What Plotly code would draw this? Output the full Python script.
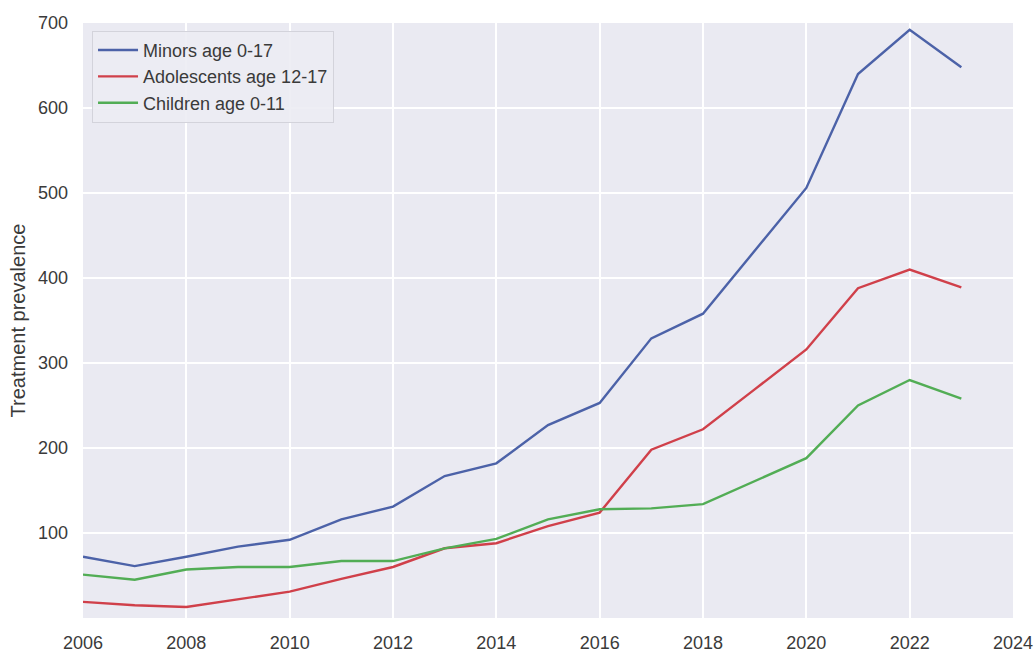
import plotly.graph_objects as go

years = list(range(2006, 2024))
minors = [72, 61, 72, 84, 92, 116, 131, 167, 182, 227, 253, 329, 358, 432, 506, 640, 692, 648]
adolescents = [19, 15, 13, 22, 31, 46, 60, 82, 88, 108, 124, 198, 222, 269, 316, 388, 410, 389]
children = [51, 45, 57, 60, 60, 67, 67, 82, 93, 116, 128, 129, 134, 161, 188, 250, 280, 258]

series_names = ["Minors age 0-17", "Adolescents age 12-17", "Children age 0-11"]
series_colors = ["#4C62A8", "#D0404A", "#52AD55"]
x_ticks = list(range(2006, 2025, 2))
y_ticks = [100, 200, 300, 400, 500, 600, 700]

fig = go.Figure()
for name, vals, col in zip(series_names, [minors, adolescents, children], series_colors):
    fig.add_trace(go.Scatter(x=years, y=vals, mode="lines", name=name,
                             line=dict(color=col, width=2.4)))

font_family = "Liberation Sans, Arial, sans-serif"
fig.update_layout(
    width=1035, height=652,
    margin=dict(l=83, r=22, t=23, b=34),
    paper_bgcolor="white",
    plot_bgcolor="#EAEAF2",
    font=dict(family=font_family, size=18, color="#3a3a3a"),
    showlegend=True,
    legend=dict(x=0.0097, y=0.987, xanchor="left", yanchor="top",
                bgcolor="rgba(236,236,243,0.9)", bordercolor="#D3D3DB", borderwidth=1,
                font=dict(size=18, color="#3a3a3a"), tracegroupgap=0, itemwidth=40),
)
fig.update_xaxes(range=[2006, 2024], tickvals=x_ticks, ticktext=[str(t) for t in x_ticks],
                 showgrid=True, gridcolor="white", gridwidth=1.5, zeroline=False,
                 showline=False, ticks="", ticklabelstandoff=12, automargin=False)
fig.update_yaxes(range=[0, 700], tickvals=y_ticks, ticktext=[str(t) for t in y_ticks],
                 showgrid=True, gridcolor="white", gridwidth=1.5, zeroline=False,
                 showline=False, ticks="", ticklabelstandoff=14, automargin=False,
                 title=dict(text="Treatment prevalence", standoff=6, font=dict(size=20)))

fig.write_html("out.html")
